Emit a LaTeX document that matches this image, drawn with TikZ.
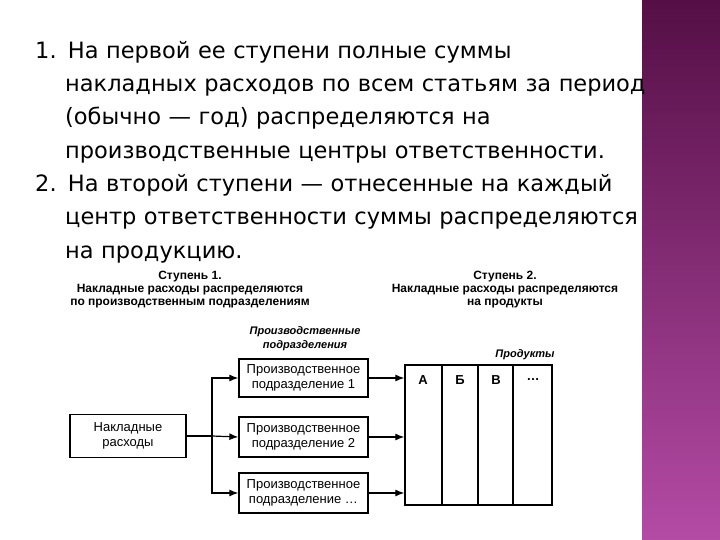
\documentclass[tikz,border=0pt]{standalone}
\usepackage{fontspec}
\usetikzlibrary{arrows.meta}
\setmainfont{DejaVu Sans}
\newfontfamily\arialf{Liberation Sans}
\begin{document}
\begin{tikzpicture}[x=1pt,y=-1pt,
  box/.style={draw,line width=1.3pt,inner sep=0pt,font=\arialf\fontsize{13}{15}\selectfont,align=center},
  ttl/.style={font=\arialf\bfseries\fontsize{12}{13}\selectfont,align=center},
  lett/.style={font=\arialf\bfseries\fontsize{13}{14}\selectfont},
  arr/.style={line width=1.2pt,-{Latex[length=9pt,width=7pt]}}]
\useasboundingbox (0,0) rectangle (720,540);
\fill[white] (0,0) rectangle (720,540);
\shade[top color={rgb,255:red,85;green,15;blue,70}, bottom color={rgb,255:red,180;green,75;blue,165}] (642,0) rectangle (720,540);
\node[anchor=north west,align=left,text width=680pt,inner sep=0pt,font=\fontsize{22.5}{33.3}\selectfont] (txt) at (35,41)
 {1. На первой ее ступени полные суммы\\
 \hspace*{30pt}накладных расходов по всем статьям за период\\
 \hspace*{30pt}(обычно — год) распределяются на\\
 \hspace*{30pt}производственные центры ответственности.\\
 2. На второй ступени — отнесенные на каждый\\
 \hspace*{30pt}центр ответственности суммы распределяются\\
 \hspace*{30pt}на продукцию.};
\node[ttl] (s1) at (190,290) {Ступень 1.\\Накладные расходы распределяются\\по производственным подразделениям};
\node[ttl] (s2) at (505,290) {Ступень 2.\\Накладные расходы распределяются\\на продукты};
\node[font=\arialf\bfseries\itshape\fontsize{11}{14}\selectfont,align=center] (pp) at (305,339) {Производственные\\подразделения};
\node[font=\arialf\bfseries\itshape\fontsize{11}{12}\selectfont] (prod) at (525,355) {Продукты};
\node[box,minimum width=116pt,minimum height=43pt] (nr) at (128,436) {Накладные\\расходы};
\node[box,minimum width=129pt,minimum height=38pt] (b1) at (303.5,378) {Производственное\\подразделение 1};
\node[box,minimum width=129pt,minimum height=40pt] (b2) at (303.5,437) {Производственное\\подразделение 2};
\node[box,minimum width=129pt,minimum height=40pt] (b3) at (303.5,493) {Производственное\\подразделение \dots};
\node[draw,line width=1.3pt,minimum width=147pt,minimum height=140pt,inner sep=0pt] (pr) at (478.5,435) {};
\draw[line width=1.1pt] (442,365) -- (442,505) (478,365) -- (478,505) (513,365) -- (513,505);
\node[lett] (ca) at (423,380) {А};
\node[lett] (cb) at (460,380) {Б};
\node[lett] (cv) at (496,380) {В};
\node[lett] (cd) at (533,380) {\dots};
\coordinate (br) at (212,436);
\draw[line width=1.2pt] (nr.east) -- (br);
\draw[arr] (br) |- (b1.west);
\draw[arr] (br) -- (b2.west);
\draw[arr] (br) |- (b3.west);
\draw[arr] (b1.east) -- (b1.east -| pr.west);
\draw[arr] (b2.east) -- (b2.east -| pr.west);
\draw[arr] (b3.east) -- (b3.east -| pr.west);
\end{tikzpicture}
\end{document}
